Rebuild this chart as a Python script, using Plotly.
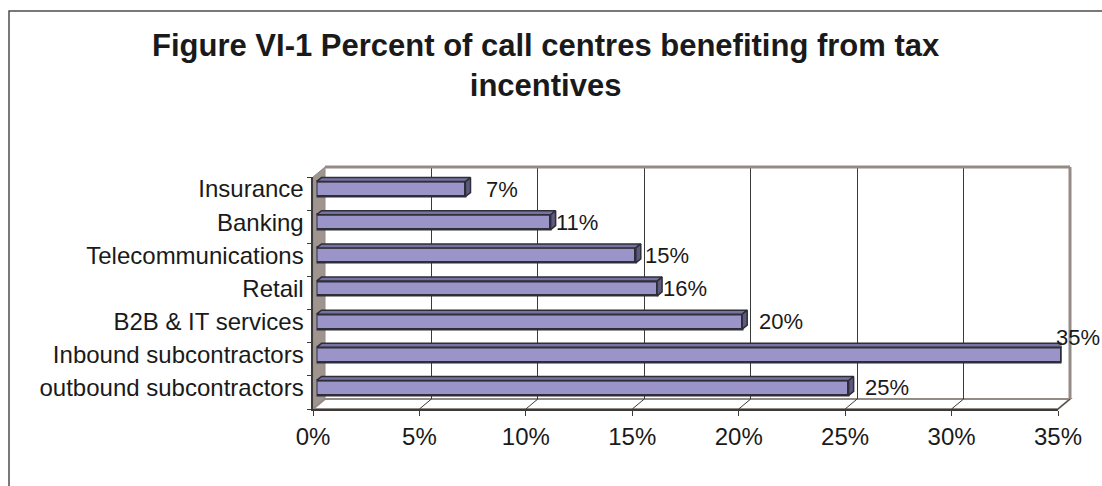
import plotly.graph_objects as go

# Values (top to bottom as displayed)
categories = [
    "Insurance",
    "Banking",
    "Telecommunications",
    "Retail",
    "B2B & IT services",
    "Inbound subcontractors",
    "outbound subcontractors",
]
percent = [7, 11, 15, 16, 20, 35, 25]
x_ticks = [0, 5, 10, 15, 20, 25, 30, 35]

title_text = "Figure VI-1 Percent of call centres benefiting from tax<br>incentives"

# ---- layout geometry (pixels) ----
W, H = 1102, 486
FONT = "Liberation Sans, Arial, sans-serif"
X_MAX = 35

# front plane of the 3-D box
FX0, FX1, FY0, FY1 = 313, 1058, 177, 409      # left, right, top, bottom
DX, DY = 12, 10                               # depth of the box
BX0, BX1, BY0, BY1 = FX0 + DX, FX1 + DX, FY0 - DY, FY1 - DY   # back wall
# plane in which the bar faces sit
PX, PY = 3.5, 4.5
QX0, QX1, QY0, QY1 = FX0 + PX, FX1 + PX, FY0 - PY, FY1 - PY

BAR_FILL = "#9a94c8"
BAR_TOP = "#77729f"
BAR_SIDE = "#5d5980"
EDGE = "#2e2e38"
WALL = "#a0948f"
WALL_EDGE = "#948a86"
GRID = "#3a3a3a"
TEXT = "#1a1a1a"

n = len(categories)
pos = [n - 1 - i for i in range(n)]           # bottom category at 0


def px_x(px):
    return px / W


def px_y(py):
    return 1 - py / H


def dom_x(a, b):
    return [px_x(a), px_x(b)]


def dom_y(top, bot):
    return [px_y(bot), px_y(top)]


fig = go.Figure()

# back wall with vertical gridlines (subplot x/y)
fig.add_trace(go.Scatter(x=[None], y=[None], xaxis="x", yaxis="y",
                         showlegend=False, hoverinfo="skip"))

# bars (subplot x2/y2)
BAR_W = 0.45
fig.add_trace(go.Bar(
    x=percent, y=pos, orientation="h", width=BAR_W,
    xaxis="x2", yaxis="y2",
    marker=dict(color=BAR_FILL, line=dict(color=EDGE, width=2.5)),
    showlegend=False, hoverinfo="skip",
))

# 3-D faces of each bar, depth converted from pixels to data units
unit_x = (QX1 - QX0) / X_MAX
unit_y = (QY1 - QY0) / n
ddx = 5 / unit_x
ddy = 4 / unit_y
for v, p in zip(percent, pos):
    yt, yb = p + BAR_W / 2, p - BAR_W / 2
    fig.add_trace(go.Scatter(
        x=[0, v, v + ddx, ddx, 0], y=[yt, yt, yt + ddy, yt + ddy, yt],
        xaxis="x2", yaxis="y2", mode="lines", fill="toself",
        fillcolor=BAR_TOP, line=dict(color=EDGE, width=1.5),
        showlegend=False, hoverinfo="skip"))
    fig.add_trace(go.Scatter(
        x=[v, v + ddx, v + ddx, v, v], y=[yt, yt + ddy, yb + ddy, yb, yt],
        xaxis="x2", yaxis="y2", mode="lines", fill="toself",
        fillcolor=BAR_SIDE, line=dict(color=EDGE, width=1.5),
        showlegend=False, hoverinfo="skip"))

# front axes (subplot x3/y3)
fig.add_trace(go.Scatter(x=[None], y=[None], xaxis="x3", yaxis="y3",
                         showlegend=False, hoverinfo="skip"))

shapes = []
# outer chart border
shapes.append(dict(type="rect", xref="paper", yref="paper",
                   x0=px_x(9), x1=px_x(W + 20), y0=px_y(H + 20), y1=px_y(11),
                   line=dict(color="#4d4d4d", width=1.5), layer="below"))
# left side wall
shapes.append(dict(type="path", xref="paper", yref="paper",
                   path=(f"M {px_x(FX0)},{px_y(FY1)} L {px_x(FX0)},{px_y(FY0)} "
                         f"L {px_x(BX0)},{px_y(BY0)} L {px_x(BX0)},{px_y(BY1)} Z"),
                   fillcolor=WALL, line=dict(color=WALL_EDGE, width=1),
                   layer="below"))
# floor
shapes.append(dict(type="path", xref="paper", yref="paper",
                   path=(f"M {px_x(FX0)},{px_y(FY1)} L {px_x(FX1)},{px_y(FY1)} "
                         f"L {px_x(BX1)},{px_y(BY1)} L {px_x(BX0)},{px_y(BY1)} Z"),
                   fillcolor="#ffffff", line=dict(color=WALL_EDGE, width=2),
                   layer="below"))
# floor gridlines running back from each tick
for t in x_ticks[1:]:
    fx = FX0 + (FX1 - FX0) * t / X_MAX
    bx = BX0 + (BX1 - BX0) * t / X_MAX
    shapes.append(dict(type="line", xref="paper", yref="paper",
                       x0=px_x(fx), y0=px_y(FY1), x1=px_x(bx), y1=px_y(BY1),
                       line=dict(color=GRID, width=1)))
# back wall top and right edges
shapes.append(dict(type="line", xref="paper", yref="paper",
                   x0=px_x(BX0), y0=px_y(BY0), x1=px_x(BX1), y1=px_y(BY0),
                   line=dict(color=WALL_EDGE, width=3)))
shapes.append(dict(type="line", xref="paper", yref="paper",
                   x0=px_x(BX1), y0=px_y(BY0), x1=px_x(BX1), y1=px_y(BY1),
                   line=dict(color=WALL_EDGE, width=3)))

# value labels
label_dx = [18, 3, 7, 4, 15, -8, 14]
label_dy = [0, 0, 0, 0, 0, 17, 0]
annotations = []
for v, p, dx, dy in zip(percent, pos, label_dx, label_dy):
    annotations.append(dict(
        x=v, y=p, xref="x2", yref="y2", text=f"{v}%", showarrow=False,
        xanchor="left", yanchor="middle", xshift=dx, yshift=dy,
        font=dict(family=FONT, size=22, color=TEXT)))

# chart title (two lines)
annotations.append(dict(
    x=px_x(546), y=px_y(65), xref="paper", yref="paper",
    text=f"<b>{title_text}</b>", showarrow=False,
    xanchor="center", yanchor="middle", align="center",
    font=dict(family=FONT, size=31, color=TEXT)))

common_hidden = dict(showticklabels=False, ticks="", zeroline=False,
                     showline=False, fixedrange=True, automargin=False)

fig.update_layout(
    width=W, height=H,
    margin=dict(l=0, r=0, t=0, b=0, autoexpand=False),
    paper_bgcolor="white", plot_bgcolor="rgba(0,0,0,0)",
    font=dict(family=FONT, size=24, color=TEXT),
    showlegend=False,
    xaxis=dict(domain=dom_x(BX0, BX1), range=[0, X_MAX], anchor="y",
               tickvals=x_ticks, showgrid=True, gridcolor=GRID, gridwidth=1,
               **common_hidden),
    yaxis=dict(domain=dom_y(BY0, BY1), range=[0, 1], anchor="x",
               showgrid=False, **common_hidden),
    xaxis2=dict(domain=dom_x(QX0, QX1), range=[0, X_MAX], anchor="y2",
                showgrid=False, **common_hidden),
    yaxis2=dict(domain=dom_y(QY0, QY1), range=[-0.5, n - 0.5], anchor="x2",
                tickvals=pos, ticktext=categories, showticklabels=True,
                ticks="outside", ticklen=7, tickcolor="rgba(0,0,0,0)",
                showgrid=False, zeroline=False, showline=False, automargin=False,
                tickfont=dict(family=FONT, size=24, color=TEXT)),
    xaxis3=dict(domain=dom_x(FX0, FX1), range=[0, X_MAX], anchor="y3",
                tickvals=x_ticks, ticktext=[f"{t}%" for t in x_ticks],
                ticks="outside", ticklen=5, tickcolor=GRID, tickwidth=1,
                showline=True, linecolor=GRID, linewidth=1.5,
                showgrid=False, zeroline=False, automargin=False,
                tickfont=dict(family=FONT, size=24, color=TEXT)),
    yaxis3=dict(domain=dom_y(FY0, FY1), range=[-0.5, n - 0.5], anchor="x3",
                tickvals=[k - 0.5 for k in range(n + 1)],
                ticks="outside", ticklen=4, tickcolor=GRID, tickwidth=1,
                showticklabels=False, showline=True, linecolor=GRID,
                linewidth=1.5, showgrid=False, zeroline=False, automargin=False),
    shapes=shapes,
    annotations=annotations,
    bargap=0,
)

fig.write_html("out.html")
